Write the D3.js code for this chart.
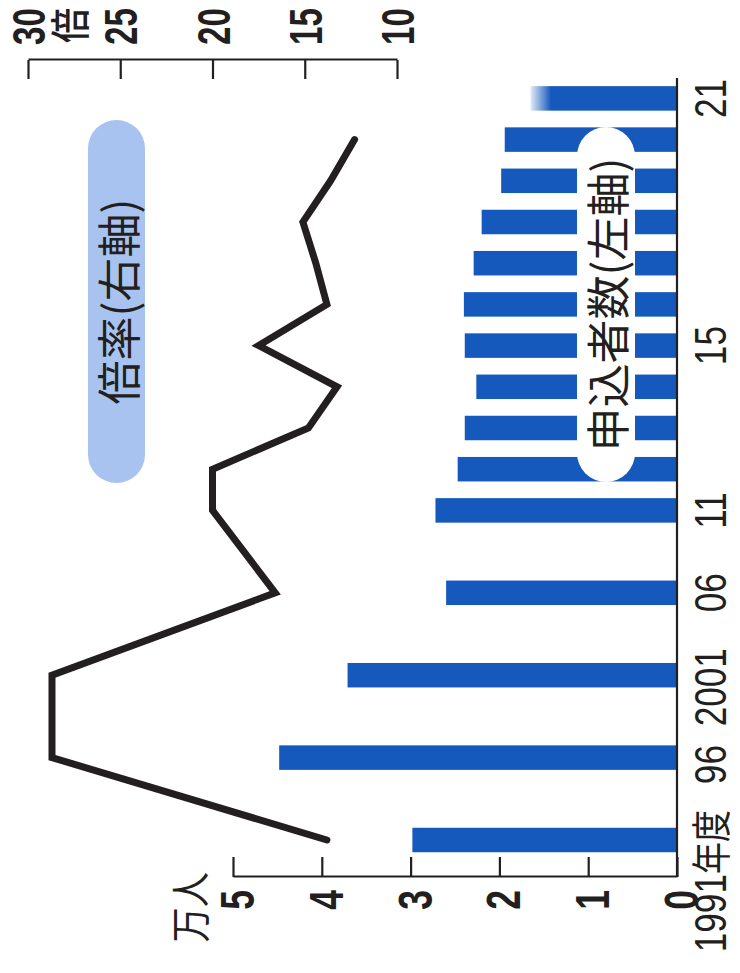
<!DOCTYPE html>
<html><head><meta charset="utf-8">
<script src="https://cdn.jsdelivr.net/npm/d3@7"></script>
<style>html,body{margin:0;padding:0;background:#fff;overflow:hidden}</style>
</head><body><svg id="c" width="740" height="973"></svg>
<script>
// ---- data ----
const fiscalYears = [1991,1996,2001,2006,2011,2012,2013,2014,2015,2016,2017,2018,2019,2020,2021];
const applicants  = [2.98,4.48,3.71,2.60,2.72,2.47,2.39,2.26,2.39,2.40,2.29,2.20,1.98,1.94,1.65]; // 万人
const ratio       = [13.8,28.7,28.7,16.6,20.0,20.0,14.8,13.25,17.5,13.8,14.4,15.1,13.6,12.3,null]; // 倍
const xTickYears  = [1991,1996,2001,2006,2011,2015,2021];
const xTickLabels = ["1991","96","2001","06","11","15","21"];
const firstLabelSuffix = "年度";
const leftTicks   = [0,1,2,3,4,5];
const rightTicks  = [10,15,20,25,30];
const leftUnit = "万人", rightUnit = "倍";
const legendRatio = "倍率(右軸)", legendApplicants = "申込者数(左軸)";

// ---- layout (chart drawn unrotated, then rotated -90deg) ----
const W = 973, H = 740;
const BLUE = "#1559bd", INK = "#231f20";
const NUM = "'Liberation Sans', Arial, sans-serif";
const CJK = "'Noto Sans CJK JP', 'Noto Sans CJK SC', sans-serif";

const svg = d3.select("#c");
const defs = svg.append("defs");
const grad = defs.append("linearGradient").attr("id","fade")
  .attr("x1",0).attr("y1",0).attr("x2",0).attr("y2",1);
grad.append("stop").attr("offset",0).attr("stop-color",BLUE).attr("stop-opacity",0.12);
grad.append("stop").attr("offset",0.14).attr("stop-color",BLUE).attr("stop-opacity",1);

const g = svg.append("g").attr("transform",`translate(0,${W}) rotate(-90)`);

const x  = d3.scaleLinear().domain([1991,2011,2021]).range([133,462.6,874.6]);
const yL = d3.scaleLinear().domain([0,5]).range([677,233]);
const yR = d3.scaleLinear().domain([10,30]).range([397,28]);
const barW = 24.5;

// bars
g.append("g").selectAll("rect").data(fiscalYears).join("rect")
  .attr("x",d=>x(d)-barW/2).attr("width",barW)
  .attr("y",(d,i)=>yL(applicants[i]))
  .attr("height",(d,i)=>yL(0)-yL(applicants[i]))
  .attr("fill",(d,i)=> i===fiscalYears.length-1 ? "url(#fade)" : BLUE);

// white legend pill over bars
const p2 = {cx: 668.5, cy: 606, w: 355, h: 58};
g.append("rect").attr("x",p2.cx-p2.w/2).attr("y",p2.cy-p2.h/2)
  .attr("width",p2.w).attr("height",p2.h).attr("rx",p2.h/2).attr("fill","#fff");
g.append("text").attr("x",p2.cx).attr("y",p2.cy)
  .attr("text-anchor","middle").attr("dominant-baseline","central")
  .attr("font-family",CJK).attr("font-size",44).attr("fill",INK)
  .text(legendApplicants);

// blue legend pill
const p1 = {cx: 671.5, cy: 116.5, w: 363, h: 57};
g.append("rect").attr("x",p1.cx-p1.w/2).attr("y",p1.cy-p1.h/2)
  .attr("width",p1.w).attr("height",p1.h).attr("rx",p1.h/2).attr("fill","#a8c3f0");
g.append("text").attr("x",p1.cx).attr("y",p1.cy)
  .attr("text-anchor","middle").attr("dominant-baseline","central")
  .attr("font-family",CJK).attr("font-size",44).attr("fill",INK)
  .text(legendRatio);

// axes
const axL = g.append("g").attr("transform","translate(96,0)")
  .call(d3.axisLeft(yL).tickValues(leftTicks).tickSizeInner(-20).tickSizeOuter(0).tickFormat(""));
const axR = g.append("g").attr("transform","translate(913,0)")
  .call(d3.axisRight(yR).tickValues(rightTicks).tickSizeInner(-19).tickSizeOuter(0).tickFormat(""));
[axL,axR].forEach(a=>{
  a.selectAll("path,line").attr("stroke",INK).attr("stroke-width",2.2);
  a.selectAll("text").remove();
});
g.append("line").attr("x1",96).attr("x2",895).attr("y1",yL(0)).attr("y2",yL(0))
  .attr("stroke",INK).attr("stroke-width",2.2);

// left axis labels
g.append("g").selectAll("text").data(leftTicks).join("text")
  .attr("transform",d=>`translate(83,${yL(d)+21}) scale(0.74,1)`)
  .attr("text-anchor","end").attr("font-family",NUM).attr("font-weight","bold")
  .attr("font-size",48).attr("fill",INK).text(d=>d);
g.append("text").attr("transform",`translate(101,205) scale(0.88,1)`)
  .attr("text-anchor","end").attr("font-family",CJK).attr("font-size",40).attr("fill",INK)
  .text(leftUnit);

// right axis labels
g.append("g").selectAll("text").data(rightTicks).join("text")
  .attr("transform",d=>`translate(928,${yR(d)+17}) scale(0.72,1)`)
  .attr("text-anchor","start").attr("font-family",NUM).attr("font-weight","bold")
  .attr("font-size",46).attr("fill",INK).text(d=>d);
g.append("text").attr("transform",`translate(930,85) scale(0.88,1)`)
  .attr("font-family",CJK).attr("font-size",40).attr("font-weight",500).attr("fill",INK)
  .text(rightUnit);

// x labels
const xOff = {0:30, 1:-7, 2:-12};
const xl = g.append("g").selectAll("text").data(xTickYears).join("text")
  .attr("transform",(d,i)=>`translate(${x(d)+(xOff[i]||0)},726) scale(0.8,1)`)
  .attr("text-anchor",(d,i)=> i===0 ? "end" : "middle")
  .attr("font-family",NUM).attr("font-size",44).attr("fill",INK);
xl.append("tspan").text((d,i)=>xTickLabels[i]);
xl.filter((d,i)=>i===0).append("tspan").attr("font-family",CJK).attr("font-size",40).text(firstLabelSuffix);

// ratio line
const lineGen = d3.line().defined(d=>d[1]!=null).x(d=>x(d[0])).y(d=>yR(d[1]));
g.append("path").datum(fiscalYears.map((y,i)=>[y,ratio[i]]))
  .attr("d",lineGen).attr("fill","none").attr("stroke",INK)
  .attr("stroke-width",7).attr("stroke-linejoin","miter").attr("stroke-linecap","round");
</script></body></html>
